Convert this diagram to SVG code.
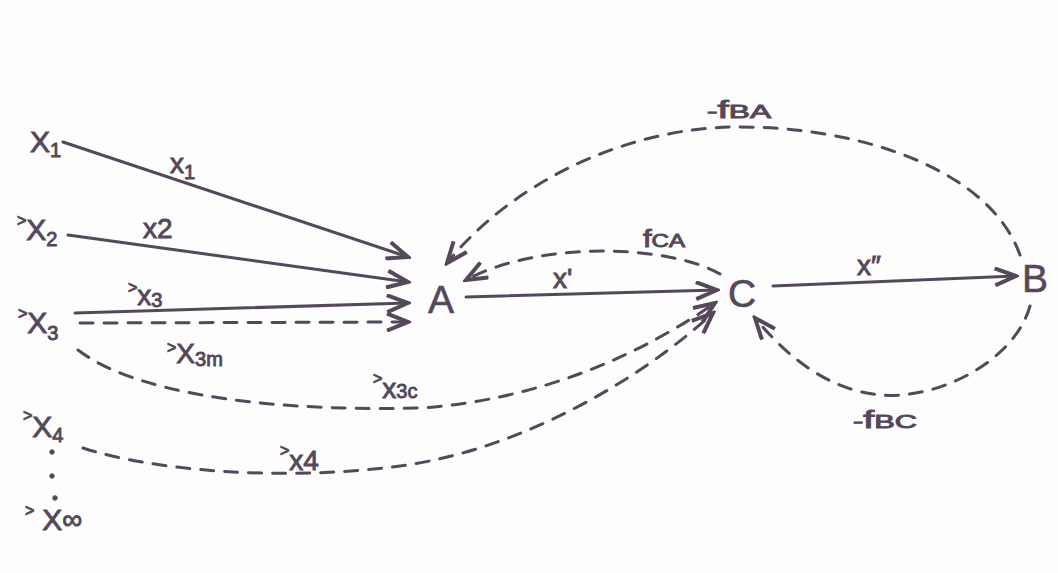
<svg xmlns="http://www.w3.org/2000/svg" width="1058" height="573" viewBox="0 0 1058 573">
<style>
.ink{fill:#54485a;stroke:#54485a;stroke-width:0.9;font-family:"Liberation Sans","DejaVu Sans",sans-serif}
.big{font-size:39px;stroke-width:0.6}
.nx{font-size:30px}
.sub{font-size:20px}
.pre{font-size:16px}
.lx{font-size:28px}
.sm{font-size:18px}
.f{font-size:23px}
.line{fill:none;stroke:#54485a;stroke-width:3;stroke-linecap:round}
.dash{stroke-dasharray:13 11}
</style>
<defs>
<marker id="ah" markerUnits="userSpaceOnUse" viewBox="0 0 26 20" refX="23" refY="10" markerWidth="26" markerHeight="20" orient="auto">
<path d="M2,1.5 L23,10 L2,18.5" fill="none" stroke="#54485a" stroke-width="4" stroke-linejoin="miter"/>
</marker>
</defs>
<rect width="1058" height="573" fill="#fdfdfd"/>
<g id="connectors">
<path class="line" d="M63,142 L408,257" marker-end="url(#ah)"/>
<path class="line" d="M68,235 L408,282" marker-end="url(#ah)"/>
<path class="line" d="M75,313 L408,303" marker-end="url(#ah)"/>
<path class="line dash" d="M80,323 L408,322" marker-end="url(#ah)"/>
<path class="line dash" d="M78,350 C130,390 250,412 420,408 C540,400 640,355 715,303" marker-end="url(#ah)"/>
<path class="line dash" d="M83,448 C150,470 280,482 400,466 C520,450 640,380 713,313" marker-end="url(#ah)"/>
<path class="line" d="M466,297 L717,290" marker-end="url(#ah)"/>
<path class="line" d="M773,286 L1016,276" marker-end="url(#ah)"/>
<path class="line dash" d="M720,274 C670,245 540,240 466,280" marker-end="url(#ah)"/>
<path class="line dash" d="M1020,255 C990,170 860,125 730,127 C620,130 510,185 447,263" marker-end="url(#ah)"/>
<path class="line dash" d="M1030,306 C1015,360 940,400 880,395 C830,390 790,360 755,318" marker-end="url(#ah)"/>
</g>
<g id="edge-labels" class="ink">
<text x="170" y="173" class="lx">x<tspan class="sub" dy="6">1</tspan></text>
<text x="143" y="238" class="lx">x2</text>
<text x="128" y="305" class="lx"><tspan class="pre" dy="-12">&gt;</tspan><tspan dy="12">x</tspan><tspan class="sub" dy="2">3</tspan></text>
<text x="167" y="363" class="lx"><tspan class="pre" dy="-10">&gt;</tspan><tspan dy="10">X</tspan><tspan class="sub" dy="3">3m</tspan></text>
<text x="373" y="398" class="lx"><tspan class="pre" dy="-14">&gt;</tspan><tspan dy="14">x</tspan><tspan class="sub">3c</tspan></text>
<text x="280" y="470" class="lx"><tspan class="pre" dy="-14">&gt;</tspan><tspan dy="14">x4</tspan></text>
<text x="553" y="288" class="lx">x'</text>
<text x="857" y="275" class="lx">x″</text>
<text x="643" y="247" class="sm" textLength="42" lengthAdjust="spacingAndGlyphs"><tspan class="f">f</tspan>CA</text>
<text x="707" y="118" class="sm" textLength="64" lengthAdjust="spacingAndGlyphs">-<tspan class="f">f</tspan>BA</text>
<text x="853" y="428" class="sm" textLength="64" lengthAdjust="spacingAndGlyphs">-<tspan class="f">f</tspan>BC</text>
</g>
<g id="node-X1" class="ink"><text x="30" y="152" class="nx">X<tspan class="sub" dy="5">1</tspan></text></g>
<g id="node-X2" class="ink"><text x="17" y="240" class="nx"><tspan class="pre" dy="-14">&gt;</tspan><tspan dy="14">X</tspan><tspan class="sub" dy="6">2</tspan></text></g>
<g id="node-X3" class="ink"><text x="18" y="333" class="nx"><tspan class="pre" dy="-14">&gt;</tspan><tspan dy="14">X</tspan><tspan class="sub" dy="7">3</tspan></text></g>
<g id="node-X4" class="ink"><text x="23" y="437" class="nx"><tspan class="pre" dy="-16">&gt;</tspan><tspan dy="16">X</tspan><tspan class="sub" dy="5">4</tspan></text>
<circle cx="52" cy="452" r="2.3"/><circle cx="52" cy="476" r="2.3"/><circle cx="55" cy="498" r="2.3"/></g>
<g id="node-Xinf" class="ink"><text x="25" y="530" class="nx"><tspan class="pre" dy="-14">&gt;</tspan><tspan dx="8" dy="14">X</tspan><tspan font-size="28px" dy="-1">∞</tspan></text></g>
<g id="node-A" class="ink"><text x="428" y="313" class="big">A</text></g>
<g id="node-C" class="ink"><text x="728" y="307" class="big">C</text></g>
<g id="node-B" class="ink"><text x="1022" y="292" class="big">B</text></g>
</svg>
